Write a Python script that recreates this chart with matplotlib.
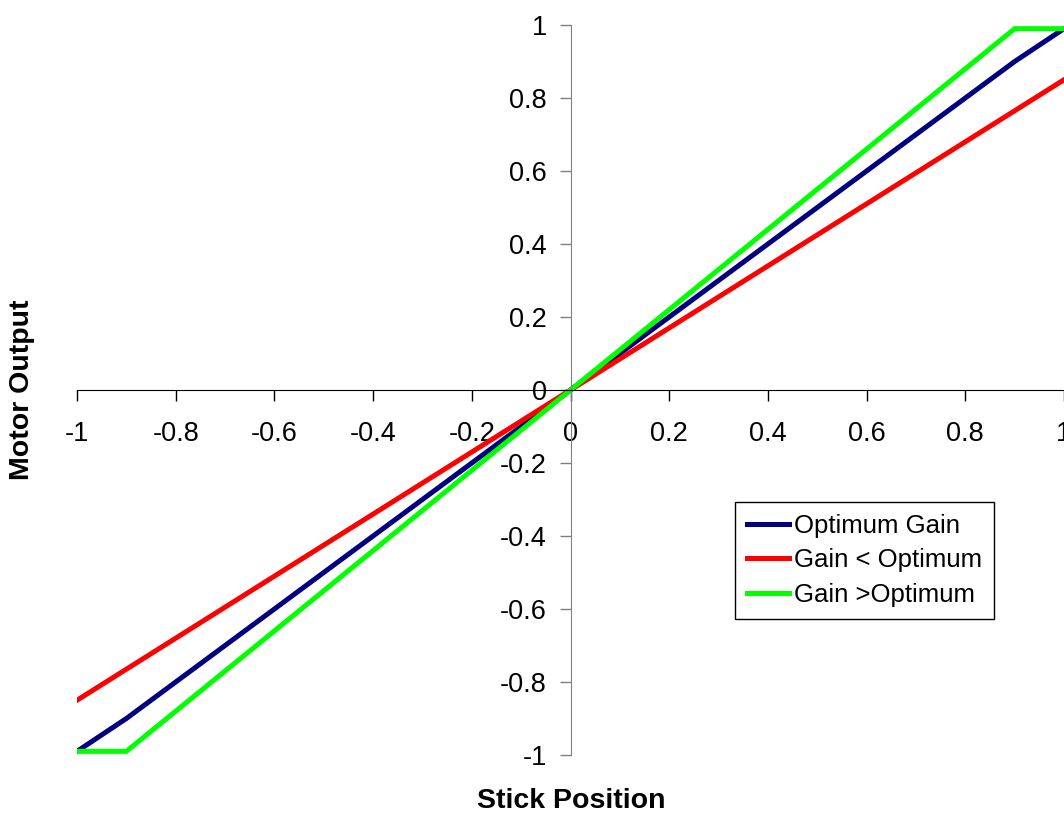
import matplotlib
matplotlib.use('Agg')
import matplotlib.pyplot as plt

plt.rcParams['font.family'] = ['Liberation Sans', 'DejaVu Sans']

stick = [-1.0, -0.9, -0.8, -0.7, -0.6, -0.5, -0.4, -0.3, -0.2, -0.1, 0.0,
         0.1, 0.2, 0.3, 0.4, 0.5, 0.6, 0.7, 0.8, 0.9, 1.0]
optimum = [-0.99, -0.9, -0.8, -0.7, -0.6, -0.5, -0.4, -0.3, -0.2, -0.1, 0.0,
           0.1, 0.2, 0.3, 0.4, 0.5, 0.6, 0.7, 0.8, 0.9, 0.99]
gain_low = [-0.85, -0.765, -0.68, -0.595, -0.51, -0.425, -0.34, -0.255, -0.17, -0.085, 0.0,
            0.085, 0.17, 0.255, 0.34, 0.425, 0.51, 0.595, 0.68, 0.765, 0.85]
gain_high = [-0.99, -0.99, -0.88, -0.77, -0.66, -0.55, -0.44, -0.33, -0.22, -0.11, 0.0,
             0.11, 0.22, 0.33, 0.44, 0.55, 0.66, 0.77, 0.88, 0.99, 0.99]
xticks = [-1, -0.8, -0.6, -0.4, -0.2, 0, 0.2, 0.4, 0.6, 0.8, 1]
yticks = [-1, -0.8, -0.6, -0.4, -0.2, 0, 0.2, 0.4, 0.6, 0.8, 1]

fig = plt.figure(figsize=(10.64, 8.13), dpi=100)
ax = fig.add_axes([77/1064, 58/813, 987/1064, 730/813])

ax.plot(stick, optimum, color='#000080', lw=3.6, label='Optimum Gain', solid_joinstyle='miter')
ax.plot(stick, gain_low, color='#ff0000', lw=3.6, label='Gain < Optimum', solid_joinstyle='miter')
ax.plot(stick, gain_high, color='#00ff00', lw=3.6, label='Gain >Optimum', solid_joinstyle='miter')

ax.set_xlim(-1, 1)
ax.set_ylim(-1, 1)
ax.spines['left'].set_position(('data', 0))
ax.spines['bottom'].set_position(('data', 0))
ax.spines['top'].set_visible(False)
ax.spines['right'].set_visible(False)
ax.spines['left'].set_color('#808080')
ax.spines['bottom'].set_color('black')

def fmt(v):
    return '%g' % v

ax.set_xticks(xticks)
ax.set_xticklabels([fmt(v) for v in xticks])
ax.set_yticks(yticks)
ax.set_yticklabels([fmt(v) for v in yticks])
ax.tick_params(axis='x', direction='out', length=8, width=1, color='black', labelsize=19.5, pad=14)
ax.tick_params(axis='y', direction='out', length=8, width=1, color='#808080', labelsize=19.5, pad=9)
for lab in ax.get_xticklabels() + ax.get_yticklabels():
    lab.set_clip_on(False)

fig.text(571/1064, 1 - 801/813, 'Stick Position', ha='center', va='center',
         fontsize=20.5, fontweight='bold')
fig.text(22/1064, 1 - 390/813, 'Motor Output', ha='center', va='center',
         fontsize=20.5, fontweight='bold', rotation=90)

leg = ax.legend(loc='upper left', bbox_to_anchor=(735/1064, 1 - 502/813),
                bbox_transform=fig.transFigure, borderaxespad=0, fancybox=False,
                edgecolor='black', framealpha=1, fontsize=18.5, handlelength=1.65,
                handletextpad=0.2, labelspacing=0.42, borderpad=0.45)
leg.get_frame().set_linewidth(1)

fig.savefig('out.png', dpi=100)
